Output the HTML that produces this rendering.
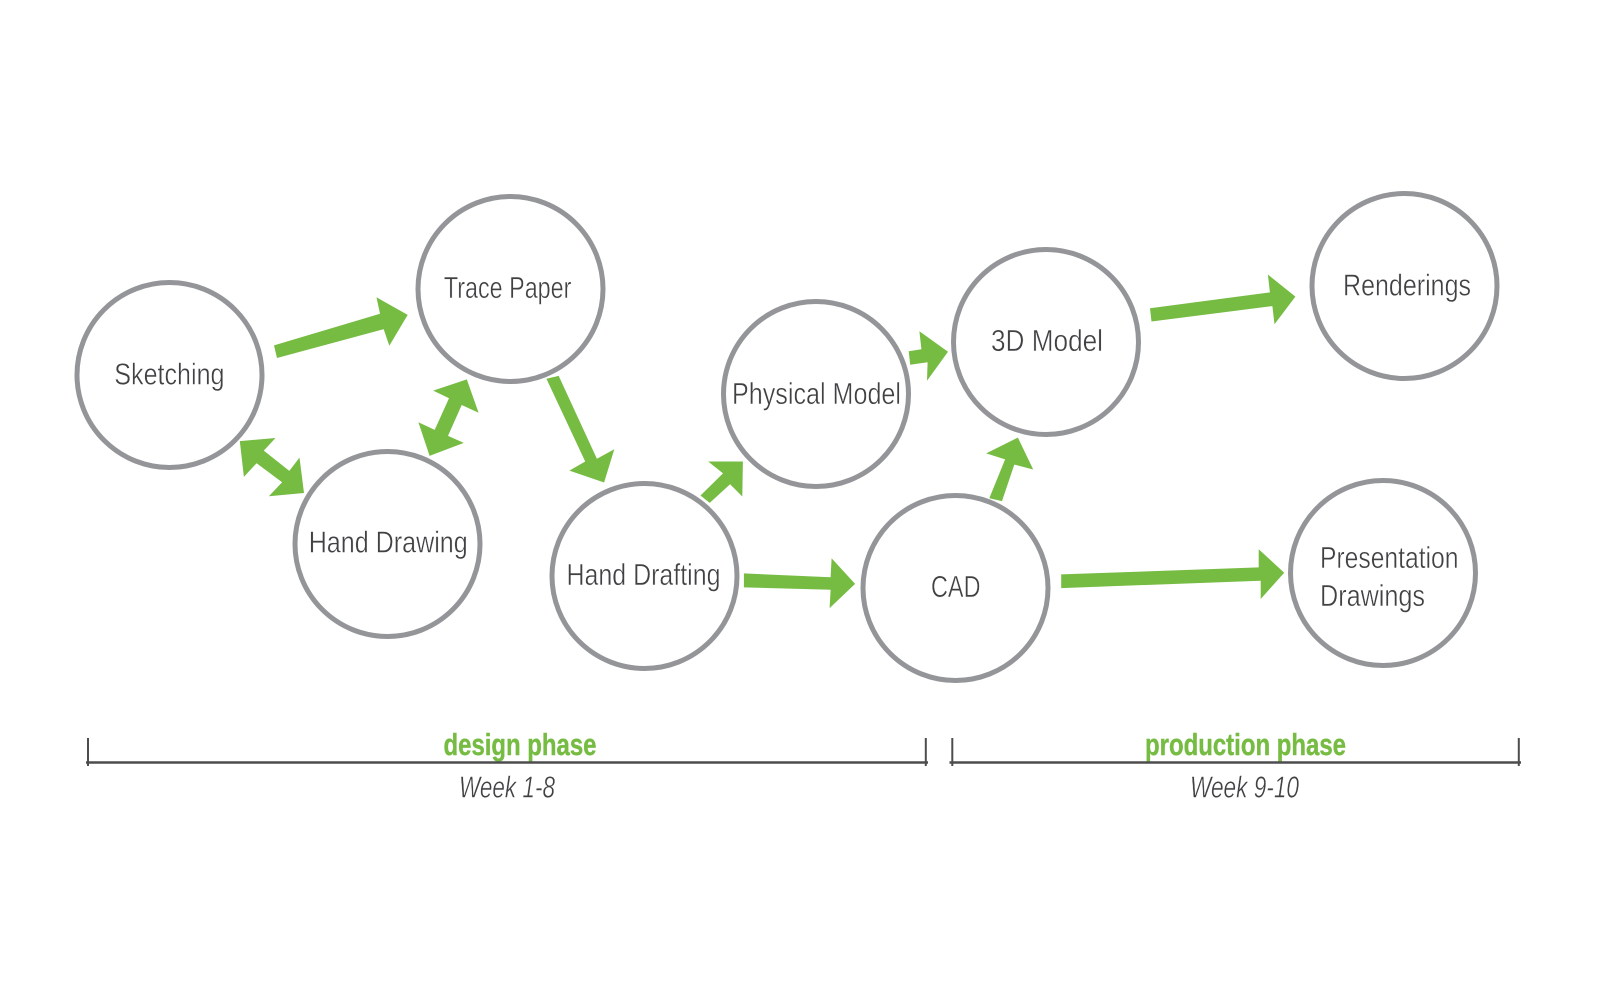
<!DOCTYPE html>
<html><head><meta charset="utf-8"><title>Design and production phases</title>
<style>
html,body{margin:0;padding:0;background:#fff}
svg{display:block}
text{font-family:"Liberation Sans",sans-serif}
.n{font-size:31px;fill:#414042;stroke:#fff;stroke-width:.45px}
.w{font-size:31px;font-style:italic;fill:#414042;stroke:#fff;stroke-width:.45px}
.p{font-size:31px;font-weight:bold;fill:#76bc43;stroke:#76bc43;stroke-width:.4px}
</style></head><body>
<svg width="1600" height="1000" viewBox="0 0 1600 1000" xmlns="http://www.w3.org/2000/svg">
<rect width="1600" height="1000" fill="#fff"/>
<g fill="none" stroke="#939598" stroke-width="5">
<circle cx="169.5" cy="375" r="92.5"/>
<circle cx="510.5" cy="289" r="92.5"/>
<circle cx="387.5" cy="544" r="92.5"/>
<circle cx="644.5" cy="576" r="92.5"/>
<circle cx="816" cy="394" r="92.5"/>
<circle cx="1046" cy="342" r="92.5"/>
<circle cx="1404.5" cy="286" r="92.5"/>
<circle cx="955.5" cy="588" r="92.5"/>
<circle cx="1383" cy="573" r="92.5"/>
</g>
<g fill="#76bc43">
<polygon points="274,345.4 277,358 383.7,329.2 389.3,345.7 407.7,314.9 376.5,297.3 380,313.8"/>
<polygon points="239.8,441.1 275.5,438 263.8,450.6 289.3,470.9 299.5,457.6 304,493 268.9,496.2 282.1,482.2 256.6,463.2 243.9,476.9"/>
<polygon points="466.8,379.4 478.6,412.7 461.7,405 448,435.9 463.8,442.9 429.6,455.9 418.4,422.2 434.7,429.9 449,398.3 433.2,390.6"/>
<polygon points="546.4,378.7 558.7,375.9 596.9,458.7 614.3,449.2 604.1,482.5 569.4,470.6 585.2,461.5"/>
<polygon points="700.5,495.5 709.7,502.9 730.1,484.3 742.3,496.5 742.9,461.5 708.2,461.5 723,473.4"/>
<polygon points="743.9,573.4 743.9,587.4 830.6,589.8 829.6,608.1 855.1,583.9 831.6,558.3 830.6,577.2"/>
<polygon points="908.7,351.3 910.2,364.7 927.6,362.2 927,380.8 948,351.7 919.4,331.3 921.4,349.2"/>
<polygon points="1150,308.2 1151.5,321.5 1272.4,306.1 1274.5,324.3 1295.4,296.6 1267.9,274.5 1269.9,292.4"/>
<polygon points="989.3,498.3 1002,501.1 1014.3,464.6 1033.2,469.5 1017.9,437.6 986.2,453.4 1005.1,459.4"/>
<polygon points="1061.2,574.4 1061.2,588.1 1260.7,580.7 1260.7,599 1284.2,572.7 1258.7,549.2 1258.7,567.4"/>
</g>
<g>
<text class="n" x="114.3" y="384.5" textLength="110.2" lengthAdjust="spacingAndGlyphs">Sketching</text>
<text class="n" x="443.9" y="298" textLength="127.5" lengthAdjust="spacingAndGlyphs">Trace Paper</text>
<text class="n" x="308.7" y="552.5" textLength="159" lengthAdjust="spacingAndGlyphs">Hand Drawing</text>
<text class="n" x="566.5" y="585" textLength="154" lengthAdjust="spacingAndGlyphs">Hand Drafting</text>
<text class="n" x="732" y="404" textLength="169" lengthAdjust="spacingAndGlyphs">Physical Model</text>
<text class="n" x="991" y="351" textLength="112" lengthAdjust="spacingAndGlyphs">3D Model</text>
<text class="n" x="1343" y="295.5" textLength="128" lengthAdjust="spacingAndGlyphs">Renderings</text>
<text class="n" x="931" y="597" textLength="49.5" lengthAdjust="spacingAndGlyphs">CAD</text>
<text class="n" x="1320" y="568" textLength="138.5" lengthAdjust="spacingAndGlyphs">Presentation</text>
<text class="n" x="1320" y="606" textLength="105" lengthAdjust="spacingAndGlyphs">Drawings</text>
<text class="p" x="443.5" y="755" textLength="153" lengthAdjust="spacingAndGlyphs">design phase</text>
<text class="p" x="1145" y="755" textLength="201" lengthAdjust="spacingAndGlyphs">production phase</text>
<text class="w" x="459" y="797.5" textLength="96" lengthAdjust="spacingAndGlyphs">Week 1-8</text>
<text class="w" x="1190" y="797.5" textLength="109" lengthAdjust="spacingAndGlyphs">Week 9-10</text>
</g>
<g stroke="#4d4d4f" fill="none">
<path stroke-width="2.5" d="M86 762.5H928M949.5 762.5H1521"/>
<path stroke-width="2" d="M88 738V766M925.8 738V766M952.3 738V766M1518.8 738V766"/>
</g>
</svg>
</body></html>
